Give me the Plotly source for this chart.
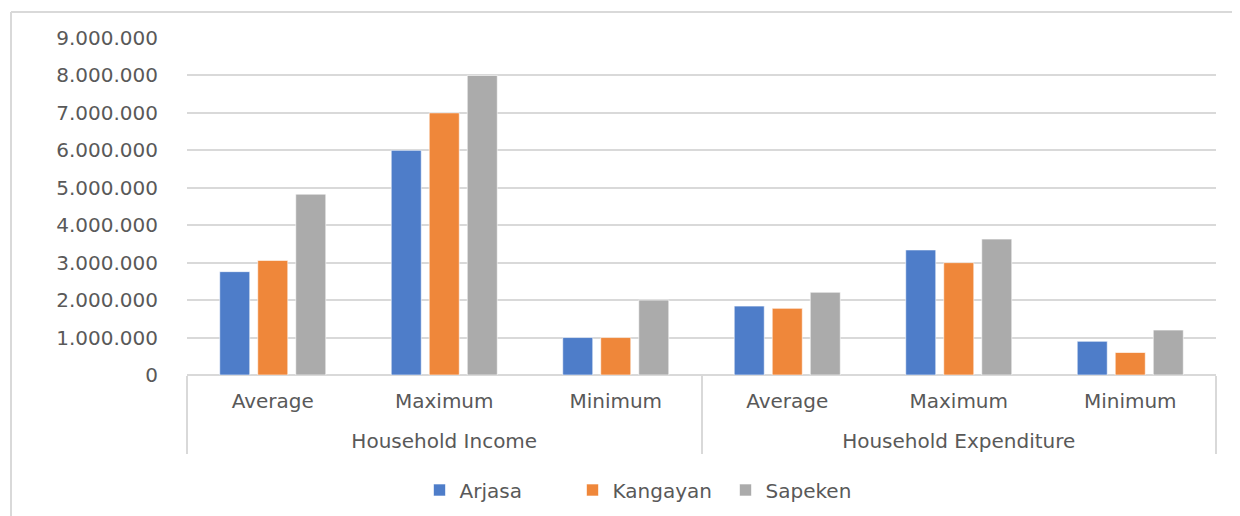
import plotly.graph_objects as go

groups = ["Household Income"] * 3 + ["Household Expenditure"] * 3
stats = ["Average", "Maximum", "Minimum"] * 2
series_names = ["Arjasa", "Kangayan", "Sapeken"]
arjasa = [2760000, 6000000, 1000000, 1840000, 3340000, 900000]
kangayan = [3060000, 7000000, 1000000, 1780000, 3000000, 600000]
sapeken = [4830000, 8000000, 2000000, 2210000, 3630000, 1200000]
colors = ["#4E7DC9", "#EF873A", "#ABABAB"]
tick_vals = [0, 1000000, 2000000, 3000000, 4000000, 5000000, 6000000, 7000000, 8000000, 9000000]
tick_text = ["0", "1.000.000", "2.000.000", "3.000.000", "4.000.000", "5.000.000",
             "6.000.000", "7.000.000", "8.000.000", "9.000.000"]

# page body has an 8px margin, so figure coordinates are page coordinates minus 8
OFF = 8
W, H = 1240, 516
L, T = 187 - OFF, 38 - OFF
R = W - (1216 - OFF)
B = H - (375 - OFF)
pw, ph = W - L - R, H - T - B

font = dict(family="DejaVu Sans", size=20, color="#595959")

# group labels carry a leading empty line so they sit lower, as in the reference
group_labels = ["<br>" + g for g in groups]

fig = go.Figure()
for name, vals, c in zip(series_names, [arjasa, kangayan, sapeken], colors):
    fig.add_trace(go.Bar(
        name=name, x=[group_labels, stats], y=vals,
        marker=dict(color=c, line=dict(color="rgba(255,255,255,0.6)", width=1)),
    ))

def px2x(px):
    return (px - OFF - L) / pw

def py2y(py):
    return (H - B - (py - OFF)) / ph

fig.update_layout(
    width=W, height=H,
    margin=dict(l=L, r=R, t=T, b=B, autoexpand=False),
    paper_bgcolor="white", plot_bgcolor="white",
    barmode="group", bargap=0.335, bargroupgap=0.21,
    font=font,
    showlegend=True,
    legend=dict(orientation="h", xref="container", yref="container",
                x=(649 - OFF) / W, xanchor="center", y=1 - (490 - OFF) / H, yanchor="middle",
                font=font, itemwidth=30, traceorder="normal",
                entrywidth=108, entrywidthmode="pixels"),
    xaxis=dict(
        type="multicategory", showline=False, ticks="", automargin=False,
        showdividers=True, dividercolor="#D9D9D9", dividerwidth=2,
        tickfont=font, ticklabelstandoff=12,
    ),
    yaxis=dict(
        range=[0, 9000000], tickvals=tick_vals, ticktext=tick_text,
        showgrid=True, gridcolor="#D9D9D9", gridwidth=2, automargin=False,
        zeroline=True, zerolinecolor="#D9D9D9", zerolinewidth=2,
        showline=False, ticks="", ticklabelstandoff=28,
        tickfont=font,
    ),
    shapes=[
        dict(type="line", xref="paper", yref="paper", x0=px2x(11), x1=px2x(1260),
             y0=py2y(12), y1=py2y(12), line=dict(color="#D9D9D9", width=2)),
        dict(type="line", xref="paper", yref="paper", x0=px2x(11), x1=px2x(11),
             y0=py2y(12), y1=py2y(530), line=dict(color="#D9D9D9", width=2)),
    ],
)

fig.write_html("out.html")
